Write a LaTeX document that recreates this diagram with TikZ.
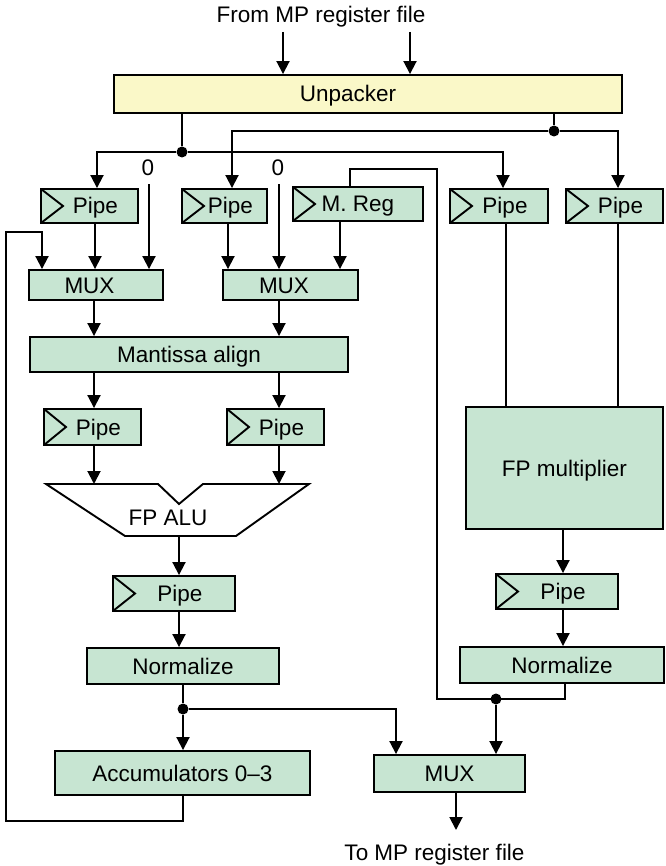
\documentclass[tikz,border=0pt]{standalone}
\usepackage{fontspec}
\setmainfont{Liberation Sans}
\usetikzlibrary{arrows.meta}
\definecolor{blockgreen}{RGB}{199,229,210}
\definecolor{unpackyellow}{RGB}{250,248,200}
\tikzset{
  txt/.style={font=\fontsize{22.5}{27}\selectfont, text height=16pt, text depth=0pt},
  block/.style={draw, fill=blockgreen, line width=1.9pt, inner sep=0pt, txt},
  clocked/.style={path picture={\draw[line width=1.9pt] (path picture bounding box.north west) -- ([xshift=22pt]path picture bounding box.west) -- (path picture bounding box.south west);}},
  pipe/.style={block, clocked, execute at begin node={\hspace*{12pt}}},
  muxl/.style={block, execute at end node={\hspace*{13pt}}},
  wire/.style={line width=1.9pt},
  arr/.style={wire, -{Triangle[length=13pt,width=13pt]}},
  dot/.style={circle, fill, inner sep=0pt, minimum size=11pt},
  lbl/.style={inner sep=2pt, txt}
}

\begin{document}
\begin{tikzpicture}[x=1pt, y=-1pt]
  \useasboundingbox (0,0) rectangle (665,866);

  % inputs and unpacker
  \node[lbl] (src) at (321,15) {From MP register file};
  \coordinate (in1) at (283,32);
  \coordinate (in2) at (410,32);
  \node[block, fill=unpackyellow, minimum width=508pt, minimum height=38pt,
        execute at end node={\hspace*{40pt}}] (unpack) at (368,94) {Unpacker};

  % input registers
  \node[pipe, minimum width=97pt, minimum height=34pt] (pipe1) at (89.5,206) {Pipe};
  \node[pipe, minimum width=85pt, minimum height=34pt] (pipe2) at (224.5,206) {Pipe};
  \node[block, clocked, minimum width=130pt, minimum height=34pt] (mreg) at (358,204) {M. Reg};
  \node[pipe, minimum width=98pt, minimum height=34pt] (pipe4) at (499,206) {Pipe};
  \node[pipe, minimum width=97pt, minimum height=34pt] (pipe5) at (614.5,206) {Pipe};
  \node[lbl] (zero1) at (148,168) {0};
  \node[lbl] (zero2) at (278,168) {0};

  % adder path
  \node[muxl, minimum width=134pt, minimum height=30pt] (mux1) at (96,285) {MUX};
  \node[muxl, minimum width=135pt, minimum height=30pt] (mux2) at (290.5,285) {MUX};
  \node[block, minimum width=318pt, minimum height=35pt] (align) at (189,354.5) {Mantissa align};
  \node[pipe, minimum width=97pt, minimum height=36pt] (pipeA) at (92.5,427) {Pipe};
  \node[pipe, minimum width=97pt, minimum height=36pt] (pipeB) at (275.5,427) {Pipe};
  \draw[wire, fill=white] (46,484) -- (158,484) -- (179,504) -- (203,484) -- (309,484) -- (236,536) -- (125,536) -- cycle;
  \node[lbl] (alu) at (168,517) {FP ALU};
  \coordinate (aluin) at (0,484);
  \coordinate (aluout) at (0,536);
  \node[pipe, minimum width=122pt, minimum height=35pt] (pipeC) at (174,593.5) {Pipe};
  \node[block, minimum width=192pt, minimum height=36pt] (norm1) at (183,666) {Normalize};
  \node[block, minimum width=255pt, minimum height=44pt] (acc) at (182.5,773) {Accumulators 0--3};

  % multiplier path
  \node[block, minimum width=197pt, minimum height=122pt] (fpmul) at (564.5,468) {FP multiplier};
  \node[pipe, minimum width=122pt, minimum height=35pt] (pipe7) at (557,591.5) {Pipe};
  \node[block, minimum width=204pt, minimum height=36pt] (norm2) at (562,665) {Normalize};
  \node[block, minimum width=151pt, minimum height=37pt] (mux3) at (449.5,773.5) {MUX};
  \node[lbl] (dst) at (434.5,852) {To MP register file};
  \coordinate (out) at (456,830);

  % wire columns
  \coordinate (cP1) at (97,0);
  \coordinate (cP2) at (232,0);
  \coordinate (cP4) at (503,0);
  \coordinate (c0) at (149,0);
  \coordinate (c1) at (95,0);
  \coordinate (c2) at (228,0);
  \coordinate (c3) at (340,0);
  \coordinate (cA) at (94,0);
  \coordinate (cB) at (279,0);
  \coordinate (cC) at (179,0);
  \coordinate (cD) at (183,0);
  \coordinate (cE) at (506,0);
  \coordinate (cF) at (618,0);
  \coordinate (cG) at (563,0);
  \coordinate (cH) at (565,0);
  \coordinate (cK) at (396,0);

  \draw[arr] (in1) -- (in1 |- unpack.north);
  \draw[arr] (in2) -- (in2 |- unpack.north);

  \node[dot] (sL) at (182,152) {};
  \node[dot] (sR) at (554,131) {};
  \draw[wire] (unpack.south -| sL) -- (sL);
  \draw[wire] (unpack.south -| sR) -- (sR);
  \draw[arr] (sL) -| (pipe1.north -| cP1);
  \draw[arr] (sL) -| (pipe4.north -| cP4);
  \draw[arr] (sR) -| (pipe2.north -| cP2);
  \draw[arr] (sR) -| (pipe5.north -| cF);

  \draw[arr, shorten <=6pt] (zero1.south -| c0) -- (mux1.north -| c0);
  \draw[arr, shorten <=6pt] (zero2.south -| cB) -- (mux2.north -| cB);
  \draw[arr] (pipe1.south -| c1) -- (mux1.north -| c1);
  \draw[arr] (pipe2.south -| c2) -- (mux2.north -| c2);
  \draw[arr] (mreg.south -| c3) -- (mux2.north -| c3);

  \draw[arr] (mux1.south -| cA) -- (align.north -| cA);
  \draw[arr] (mux2.south -| cB) -- (align.north -| cB);
  \draw[arr] (align.south -| cA) -- (pipeA.north -| cA);
  \draw[arr] (align.south -| cB) -- (pipeB.north -| cB);
  \draw[arr] (pipeA.south -| cA) -- (aluin -| cA);
  \draw[arr] (pipeB.south -| cB) -- (aluin -| cB);
  \draw[arr] (aluout -| cC) -- (pipeC.north -| cC);
  \draw[arr] (pipeC.south -| cC) -- (norm1.north -| cC);

  \node[dot] (dL) at (183,709) {};
  \draw[wire] (norm1.south -| dL) -- (dL);
  \draw[arr] (dL) -- (dL |- acc.north);
  \draw[arr] (dL) -| (mux3.north -| cK);

  % accumulator feedback
  \coordinate (fbL) at (6,821);
  \coordinate (fbT) at (42,232);
  \draw[arr] (acc.south -| cD) |- (fbL) |- (fbT) -- (fbT |- mux1.north);

  \draw[wire] (pipe4.south -| cE) -- (fpmul.north -| cE);
  \draw[wire] (pipe5.south -| cF) -- (fpmul.north -| cF);
  \draw[arr] (fpmul.south -| cG) -- (pipe7.north -| cG);
  \draw[arr] (pipe7.south -| cG) -- (norm2.north -| cG);

  % multiplier result to M. Reg and output MUX
  \node[dot] (dR) at (496,699) {};
  \coordinate (mrA) at (437,699);
  \coordinate (mrB) at (350,169);
  \draw[wire] (norm2.south -| cH) |- (mrA) |- (mrB) -- (mrB |- mreg.north);
  \draw[arr] (dR) -- (dR |- mux3.north);
  \draw[arr] (mux3.south -| out) -- (out);
\end{tikzpicture}
\end{document}
